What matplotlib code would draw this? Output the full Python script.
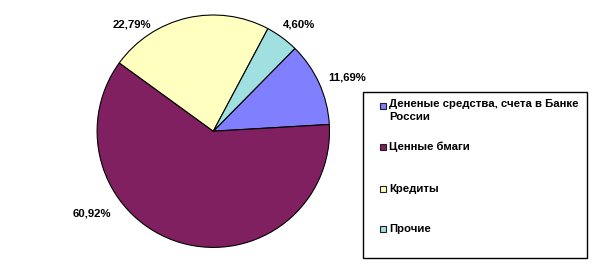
import matplotlib
matplotlib.use("Agg")
import matplotlib.pyplot as plt
from matplotlib.patches import Rectangle

# Structure of assets
categories = ["Дененые средства, счета в Банке\nРоссии", "Ценные бмаги", "Кредиты", "Прочие"]
shares = [11.69, 60.92, 22.79, 4.60]
share_labels = ["11,69%", "60,92%", "22,79%", "4,60%"]
colors = ["#8080FF", "#802060", "#FFFFC0", "#A0E0E0"]

W, H = 604, 263
fig = plt.figure(figsize=(W / 100, H / 100), dpi=100)
plt.rcParams["font.family"] = ["Liberation Sans", "DejaVu Sans"]

# pie placed by pixel geometry: centre (213, 131), radius 116
cx, cy, r = 213.3, 131.2, 116.2
ax = fig.add_axes([(cx - r) / W, (H - cy - r) / H, 2 * r / W, 2 * r / H])
wedges, _ = ax.pie(shares, colors=colors, startangle=45.4, counterclock=False,
                   radius=1.0, wedgeprops=dict(edgecolor="black", linewidth=0.8))
ax.set_xlim(-1, 1)
ax.set_ylim(-1, 1)
ax.set_aspect("equal")
ax.axis("off")

# label anchor points around the pie (in radius units)
label_pos = [(1.153, 0.459), (-1.043, -0.707), (-0.701, 0.922), (0.741, 0.914)]
for txt, (lx, ly) in zip(share_labels, label_pos):
    ax.text(lx, ly, txt, ha="center", va="center", fontsize=8.2,
            fontweight="bold", color="black", clip_on=False)

# legend box drawn in figure pixels
def fx(px):
    return px / W

def fy(py):
    return 1 - py / H

fig.patches.append(Rectangle((fx(362.5), fy(257.5)), fx(587) - fx(362.5), fy(92) - fy(257.5),
                             transform=fig.transFigure, facecolor="white",
                             edgecolor="black", linewidth=1.0))
entry_y = [105.6, 146.8, 189.0, 229.0]
for name, col, ey in zip(categories, colors, entry_y):
    fig.patches.append(Rectangle((fx(380), fy(ey + 3)), fx(6), 6 / H,
                                 transform=fig.transFigure, facecolor=col,
                                 edgecolor="#202020", linewidth=0.8))
    if "\n" in name:
        fig.text(fx(389), fy(ey - 6.5), name, ha="left", va="top", fontsize=8.2,
                 fontweight="bold", linespacing=1.3)
    else:
        fig.text(fx(389), fy(ey), name, ha="left", va="center", fontsize=8.2,
                 fontweight="bold")

fig.savefig("out.png", dpi=100, facecolor="white")
